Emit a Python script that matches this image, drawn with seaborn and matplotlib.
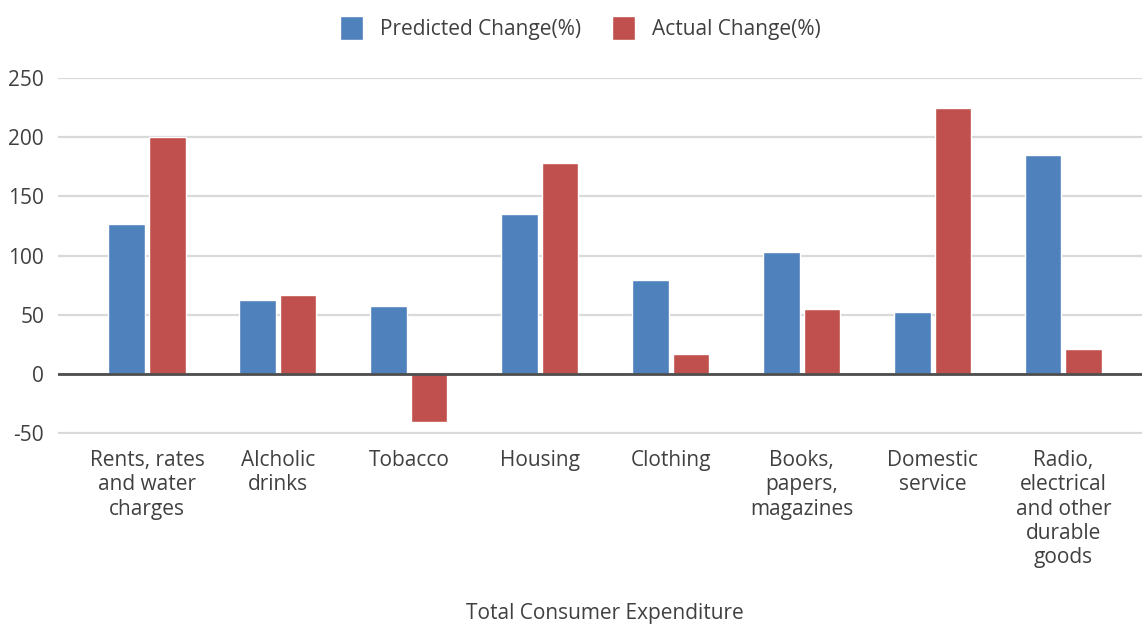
import matplotlib
matplotlib.use("Agg")
import matplotlib.pyplot as plt
import seaborn as sns
import pandas as pd
from matplotlib.patches import Patch

categories = ["Rents, rates\nand water\ncharges", "Alcholic\ndrinks", "Tobacco", "Housing",
              "Clothing", "Books,\npapers,\nmagazines", "Domestic\nservice",
              "Radio,\nelectrical\nand other\ndurable\ngoods"]
predicted = [127, 62, 57, 135, 79, 103, 52, 185]
actual = [200, 67, -41, 178, 17, 55, 225, 21]
series_names = ["Predicted Change(%)", "Actual Change(%)"]
yticks = [-50, 0, 50, 100, 150, 200, 250]

df = pd.DataFrame({
    "category": categories * 2,
    "value": predicted + actual,
    "series": [series_names[0]] * len(categories) + [series_names[1]] * len(categories),
})

sns.set_theme(style="white")
plt.rcParams["font.family"] = ["Open Sans", "DejaVu Sans"]

fig = plt.figure(figsize=(11.42, 6.26), dpi=100)
ax = fig.add_axes([58 / 1142, 1 - 433.5 / 626, 1 - 58 / 1142, (433.5 - 77.5) / 626])

sns.barplot(data=df, x="category", y="value", hue="series", order=categories,
            hue_order=series_names, palette=["#4F81BD", "#C0504D"],
            width=0.62, gap=0.1, ax=ax, legend=False, saturation=1, zorder=3)

ax.set_xlim(-0.68, 7.6)
ax.set_ylim(-50.4, 250.4)
ax.set_yticks(yticks)
ax.set_yticklabels([str(t) for t in yticks])
ax.grid(axis="y", color="#d9d9d9", linewidth=1.6, zorder=0)
ax.set_axisbelow(True)
ax.axhline(0, color="#4d4d4d", linewidth=2.0, zorder=4)
for s in ax.spines.values():
    s.set_visible(False)
ax.tick_params(axis="y", labelsize=15, colors="#404040", length=0, pad=10)
ax.tick_params(axis="x", labelsize=15, colors="#404040", length=0, pad=12)
for lab in ax.get_xticklabels():
    lab.set_linespacing(1.2)
ax.set_xlabel("Total Consumer Expenditure", fontsize=15, color="#404040")
ax.set_ylabel("")
ax.xaxis.set_label_coords((605 - 58) / 1084, -(603 - 433.5) / 356)

handles = [Patch(facecolor="#4F81BD"), Patch(facecolor="#C0504D")]
fig.legend(handles, series_names, loc="upper center", bbox_to_anchor=(0.508, 1.005),
           ncol=2, frameon=False, fontsize=15, handlelength=1.1, handleheight=1.4,
           columnspacing=1.5, handletextpad=0.8, labelcolor="#404040")

fig.savefig("out.png", dpi=100)
